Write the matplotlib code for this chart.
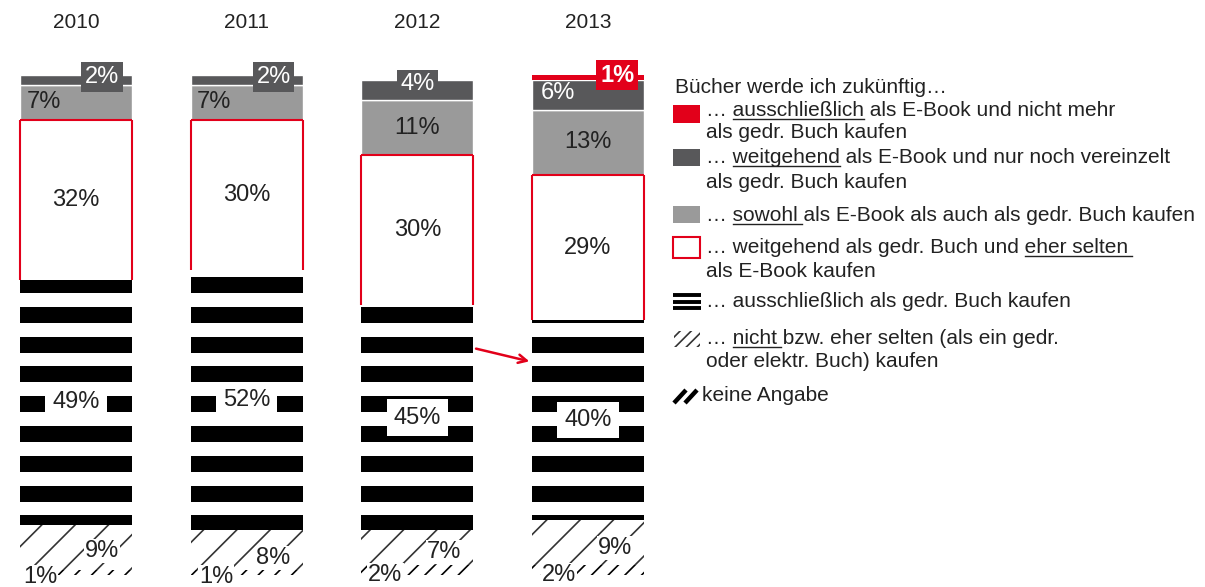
import matplotlib
matplotlib.use("Agg")
import matplotlib.pyplot as plt
from matplotlib.patches import Rectangle
import numpy as np

FONT = "Liberation Sans"
plt.rcParams['font.family'] = [FONT, 'DejaVu Sans']
plt.rcParams['hatch.linewidth'] = 1.2

# ---- data (percent) ----
years = ['2010', '2011', '2012', '2013']
keine_angabe = [1, 1, 2, 2]
nicht = [9, 8, 7, 9]
ausschl_gedr = [49, 52, 45, 40]
weitgehend_gedr = [32, 30, 30, 29]
sowohl = [7, 7, 11, 13]
weitgehend_ebook = [2, 2, 4, 6]
ausschl_ebook = [0, 0, 0, 1]

RED = '#e2001a'
DARK = '#58585a'
GRAY = '#9a9a9a'
TXT = '#222222'

# label offsets (dx in bar units, dy in %) relative to segment centre
pos_weitgehend_ebook = [(0.152, 0.6), (0.158, 0.6), (0.0, 1.1), (-0.176, 0.4)]
pos_sowohl = [(-0.19, 0.0), (-0.19, 0.0), (0, 0), (0, 0)]
pos_nicht = [(0.152, -0.7), (0.155, -1.6), (0.158, -0.9), (0.158, -1.1)]
pos_keine = [(-0.21, -0.9), (-0.18, -0.9), (-0.187, -1.0), (-0.17, -1.0)]

fig = plt.figure(figsize=(12.05, 5.87), dpi=100)
ax = fig.add_axes([0, 12 / 587, 660 / 1205, 500 / 587])
ax.set_xlim(-0.445, -0.445 + 660 / 170.7)
ax.set_ylim(0, 100)
ax.axis('off')

x = np.arange(len(years))
w = 0.656
s1 = np.array(keine_angabe, float)
s2 = s1 + np.array(nicht)
s3 = s2 + np.array(ausschl_gedr)
s4 = s3 + np.array(weitgehend_gedr)
s5 = s4 + np.array(sowohl)
s6 = s5 + np.array(weitgehend_ebook)

ax.bar(x, keine_angabe, w, color='white', edgecolor='black', hatch='//', lw=0)
ax.bar(x, nicht, w, bottom=s1, color='white', edgecolor='#333333', hatch='/', lw=0)
ax.bar(x, ausschl_gedr, w, bottom=s2, color='white', lw=0)
ax.bar(x, weitgehend_gedr, w, bottom=s3, color='white', lw=0)
# red outline on three sides (no bottom edge)
ax.vlines(x - w / 2, s3, s4, color=RED, lw=1.5)
ax.vlines(x + w / 2, s3, s4, color=RED, lw=1.5)
ax.hlines(s4, x - w / 2, x + w / 2, color=RED, lw=1.5)
ax.bar(x, sowohl, w, bottom=s4, color=GRAY, edgecolor='white', lw=1)
ax.bar(x, weitgehend_ebook, w, bottom=s5, color=DARK, edgecolor='white', lw=1)
ax.bar(x, ausschl_ebook, w, bottom=s6, color=RED, lw=0)

# horizontal stripe fill for "ausschließlich als gedr. Buch"
period, thick, phase = 5.96, 3.2, 50.46
for i in range(len(years)):
    lo, hi = s2[i], s3[i]
    for k in range(-12, 12):
        b = phase + period * k
        a0, a1 = max(b, lo), min(b + thick, hi)
        if a1 > a0:
            ax.bar(x[i], a1 - a0, w, bottom=a0, color='black', lw=0)

FS = 17
for i in range(len(years)):
    ax.text(x[i], 110.6, years[i], ha='center', va='center', fontsize=15, color=TXT, clip_on=False)
    # main segments
    ax.text(x[i], s3[i] + weitgehend_gedr[i] / 2, f"{weitgehend_gedr[i]}%", ha='center', va='center',
            fontsize=FS, color=TXT)
    ax.text(x[i], s2[i] + ausschl_gedr[i] / 2, f"{ausschl_gedr[i]}%", ha='center', va='center',
            fontsize=FS, color=TXT, bbox=dict(boxstyle='square,pad=0.3', fc='white', ec='none'))
    dx, dy = pos_sowohl[i]
    ax.text(x[i] + dx, s4[i] + sowohl[i] / 2 + dy, f"{sowohl[i]}%", ha='center', va='center',
            fontsize=FS, color=TXT)
    dx, dy = pos_weitgehend_ebook[i]
    yv = s5[i] + weitgehend_ebook[i] / 2 + dy
    if weitgehend_ebook[i] <= 4:
        ax.text(x[i] + dx, yv, f"{weitgehend_ebook[i]}%", ha='center', va='center', fontsize=FS,
                color='white', bbox=dict(boxstyle='square,pad=0.15', fc=DARK, ec='none'))
    else:
        ax.text(x[i] + dx, yv, f"{weitgehend_ebook[i]}%", ha='center', va='center', fontsize=FS,
                color='white')
    if ausschl_ebook[i] > 0:
        ax.text(x[i] + 0.17, s6[i] + ausschl_ebook[i] / 2 + 0.5, f"{ausschl_ebook[i]}%", ha='center',
                va='center', fontsize=FS, color='white', fontweight='bold',
                bbox=dict(boxstyle='square,pad=0.15', fc=RED, ec='none'))
    dx, dy = pos_nicht[i]
    ax.text(x[i] + dx, s1[i] + nicht[i] / 2 + dy, f"{nicht[i]}%", ha='center', va='center',
            fontsize=FS, color=TXT, bbox=dict(boxstyle='square,pad=0.05', fc='white', ec='none'))
    dx, dy = pos_keine[i]
    ax.text(x[i] + dx, keine_angabe[i] / 2 + dy, f"{keine_angabe[i]}%", ha='center', va='center',
            fontsize=FS, color=TXT, clip_on=False,
            bbox=dict(boxstyle='square,pad=0.05', fc='white', ec='none'))

ax.annotate('', xy=(3 - w / 2, 42.6), xytext=(2 + w / 2, 45.4),
            arrowprops=dict(arrowstyle='->,head_length=0.6,head_width=0.3', color=RED, lw=1.8))

# ---- legend (pixel coordinates) ----
lax = fig.add_axes([0, 0, 1, 1])
lax.set_xlim(0, 1205)
lax.set_ylim(587, 0)
lax.axis('off')
renderer = fig.canvas.get_renderer()
LFS = 15


def text_w(s):
    t = lax.text(0, 0, s, fontsize=LFS)
    wd = t.get_window_extent(renderer).width
    t.remove()
    return wd


def leg_line(x0, y, parts):
    full = ''.join(p for p, _ in parts)
    lax.text(x0, y, full, fontsize=LFS, color=TXT, va='baseline')
    pre = ''
    for p, ul in parts:
        if ul:
            word = p.rstrip()
            end = text_w(pre + word)
            start = end - text_w(word)
            extra = 4 if p != word else 0
            lax.plot([x0 + start, x0 + end + extra], [y + 3, y + 3], color=TXT, lw=1)
        pre += p


lax.text(675, 93, 'Bücher werde ich zukünftig…', fontsize=LFS, color=TXT, va='baseline')
lax.add_patch(Rectangle((673, 105), 27, 18, fc=RED, ec='none'))
leg_line(706, 116, [('… ', False), ('ausschließlich', True), (' als E-Book und nicht mehr', False)])
leg_line(706, 138, [('als gedr. Buch kaufen', False)])
lax.add_patch(Rectangle((673, 149), 27, 17, fc=DARK, ec='none'))
leg_line(706, 163, [('… ', False), ('weitgehend', True), (' als E-Book und nur noch vereinzelt', False)])
leg_line(706, 188, [('als gedr. Buch kaufen', False)])
lax.add_patch(Rectangle((673, 206), 27, 17, fc=GRAY, ec='none'))
leg_line(706, 221, [('… ', False), ('sowohl ', True), ('als E-Book als auch als gedr. Buch kaufen', False)])
lax.add_patch(Rectangle((673, 237), 27, 21, fc='white', ec=RED, lw=1.5))
leg_line(706, 253, [('… weitgehend als gedr. Buch und ', False), ('eher selten ', True)])
leg_line(706, 277, [('als E-Book kaufen', False)])
for yy in (295, 301.5, 308):
    lax.plot([673, 701], [yy, yy], color='black', lw=2.8, solid_capstyle='butt')
leg_line(706, 307, [('… ausschließlich als gedr. Buch kaufen', False)])
lax.add_patch(Rectangle((674, 331), 26, 16, fc='white', ec='#333333', hatch='///', lw=0))
leg_line(706, 344, [('… ', False), ('nicht ', True), ('bzw. eher selten (als ein gedr.', False)])
leg_line(706, 367, [('oder elektr. Buch) kaufen', False)])
for x0 in (674, 685):
    lax.plot([x0, x0 + 12], [403, 390], color='black', lw=3.2, solid_capstyle='butt')
leg_line(702, 401, [('keine Angabe', False)])

fig.savefig('out.png', dpi=100)
